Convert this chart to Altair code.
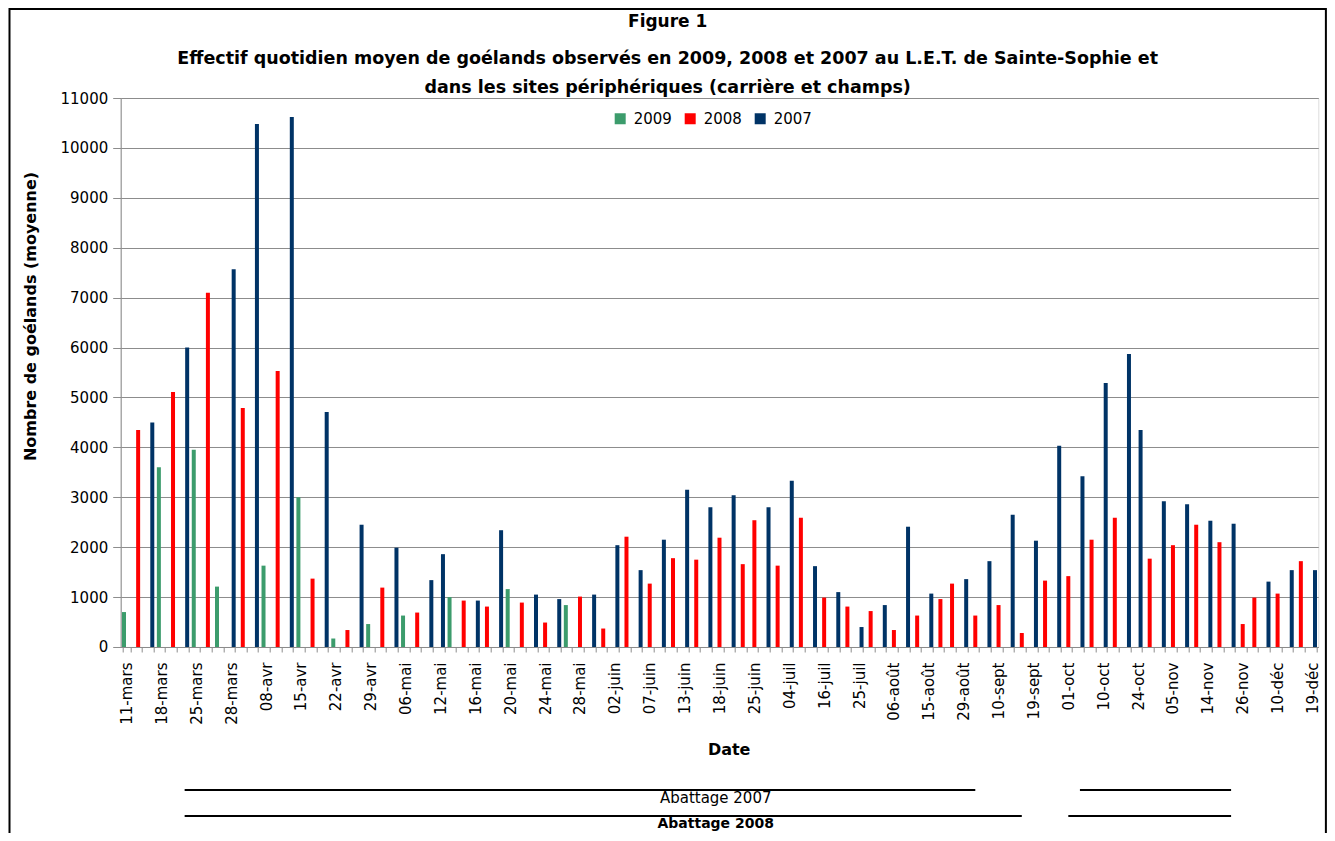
import altair as alt
import pandas as pd

# ---- data ----
date_labels = ["11-mars", "18-mars", "25-mars", "28-mars", "08-avr", "15-avr", "22-avr",
               "29-avr", "06-mai", "12-mai", "16-mai", "20-mai", "24-mai", "28-mai",
               "02-juin", "07-juin", "13-juin", "18-juin", "25-juin", "04-juil", "16-juil",
               "25-juil", "06-août", "15-août", "29-août", "10-sept", "19-sept", "01-oct",
               "10-oct", "24-oct", "05-nov", "14-nov", "26-nov", "10-déc", "19-déc"]
n_dates = 103  # one category per observation date, labelled every third one

years = ["2009", "2008", "2007"]
colors = ["#3c9c6c", "#ff0000", "#003366"]

idx_2009 = [0, 3, 6, 8, 12, 15, 18, 21, 24, 28, 33, 38]
val_2009 = [700, 3600, 3950, 1210, 1630, 3000, 170, 460, 630, 1000, 1160, 840]

idx_2008 = [1, 4, 7, 10, 13, 16, 19, 22, 25,
            29, 31, 34, 36, 39, 41, 43, 45, 47, 49, 51, 53, 54, 56, 58,
            60, 62, 64, 66, 68, 70, 71, 73, 75, 77, 79, 81, 83, 85,
            88, 90, 92, 94, 96, 97, 99, 101]
val_2008 = [4350, 5110, 7100, 4790, 5530, 1370, 340, 1190, 690,
            930, 810, 890, 490, 1010, 370, 2210, 1270, 1780, 1750, 2190, 1660, 2540, 1630, 2590,
            990, 810, 720, 340, 630, 960, 1270, 630, 840, 280, 1330, 1420, 2150, 2590,
            1770, 2040, 2450, 2100, 460, 990, 1070, 1720]

idx_2007 = [2, 5, 9, 11, 14, 17, 20, 23, 26, 27,
            30, 32, 35, 37, 40, 42, 44, 46, 48, 50,
            52, 55, 57, 59, 61, 63, 65, 67, 69, 72,
            74, 76, 78, 80, 82, 84, 86, 87, 89, 91,
            93, 95, 98, 100, 102]
val_2007 = [4500, 6000, 7570, 10480, 10620, 4710, 2450, 1990, 1340, 1860,
            930, 2340, 1050, 960, 1050, 2040, 1540, 2150, 3150, 2800,
            3040, 2800, 3330, 1620, 1100, 400, 840, 2410, 1070, 1360,
            1720, 2650, 2130, 4030, 3420, 5290, 5870, 4350, 2920, 2860,
            2530, 2470, 1310, 1540, 1540]

# culling periods (start / end date index)
abattage_2007 = [(5, 73), (82, 95)]
abattage_2008 = [(5, 77), (81, 95)]

title_lines = ["Figure 1",
               "Effectif quotidien moyen de goélands observés en 2009, 2008 et 2007 au L.E.T. de Sainte-Sophie et",
               "dans les sites périphériques (carrière et champs)"]

# ---- build tables ----
rows = []
for yr, idxs, vals in [("2009", idx_2009, val_2009), ("2008", idx_2008, val_2008), ("2007", idx_2007, val_2007)]:
    for i, v in zip(idxs, vals):
        rows.append({"idx": i, "annee": yr, "n": v})
df = pd.DataFrame(rows)

ab07 = pd.DataFrame(abattage_2007, columns=["start", "end"])
ab08 = pd.DataFrame(abattage_2008, columns=["start", "end"])

W = 1197.6
H = 549
FONT = "DejaVu Sans"
GRAY = "#8c8c8c"

label_js = "[" + ",".join("'" + s + "'" for s in date_labels) + "]"
label_expr = f"datum.value % 3 == 0 ? {label_js}[datum.value / 3] : ''"

xscale = alt.Scale(domain=list(range(n_dates)), paddingInner=0.35, paddingOuter=0.175)

bars = alt.Chart(df).mark_bar(width=4).encode(
    x=alt.X("idx:O", scale=xscale,
            axis=alt.Axis(title="Date", labelExpr=label_expr, labelAngle=-90,
                          labelAlign="right", labelBaseline="middle", labelOverlap=False,
                          labelFont=FONT, labelFontSize=15, labelColor="black",
                          labelPadding=10, tickSize=5, tickColor=GRAY, tickBand="extent",
                          domainColor=GRAY, grid=False,
                          titleFont=FONT, titleFontSize=16, titleFontWeight="bold",
                          titleColor="black", titleX=608, titleY=103,
                          titleAlign="center", titleBaseline="middle")),
    xOffset=alt.XOffset("annee:N", scale=alt.Scale(domain=years)),
    y=alt.Y("n:Q", scale=alt.Scale(domain=[0, 11000], nice=False),
            axis=alt.Axis(title="Nombre de goélands (moyenne)",
                          values=list(range(0, 11001, 1000)), format="d",
                          labelFont=FONT, labelFontSize=15, labelColor="black",
                          labelPadding=5, tickSize=8, tickColor=GRAY,
                          domainColor=GRAY, gridColor=GRAY,
                          titleFont=FONT, titleFontSize=16, titleFontWeight="bold",
                          titleColor="black", titleX=-90, titleY=218,
                          titleAlign="center", titleBaseline="middle")),
    color=alt.Color("annee:N", scale=alt.Scale(domain=years, range=colors),
                    legend=alt.Legend(orient="none", legendX=492, legendY=13,
                                      direction="horizontal", title=None,
                                      symbolType="square", symbolSize=121,
                                      symbolStrokeWidth=0, labelFont=FONT,
                                      labelFontSize=15, labelColor="black",
                                      labelOffset=6, columnPadding=10)),
)

rule07 = alt.Chart(ab07).mark_rule(color="black", strokeWidth=2).encode(
    x=alt.X("start:O", scale=xscale), x2="end:O", y=alt.value(692))
rule08 = alt.Chart(ab08).mark_rule(color="black", strokeWidth=2).encode(
    x=alt.X("start:O", scale=xscale), x2="end:O", y=alt.value(718))

txt07 = alt.Chart(pd.DataFrame({"t": ["Abattage 2007"]})).mark_text(
    font=FONT, fontSize=15, color="black", align="center", baseline="middle").encode(
    text="t:N", x=alt.value(595), y=alt.value(700))
txt08 = alt.Chart(pd.DataFrame({"t": ["Abattage 2008"]})).mark_text(
    font=FONT, fontSize=14, fontWeight="bold", color="black", align="center", baseline="alphabetic").encode(
    text="t:N", x=alt.value(595), y=alt.value(730))

frame = alt.Chart(pd.DataFrame({"f": [0]})).mark_rect(
    fill="transparent", stroke="black", strokeWidth=2).encode(
    x=alt.value(-111.2), x2=alt.value(W + 7.6), y=alt.value(-89), y2=alt.value(H + 250))

chart = alt.layer(frame, bars, rule07, rule08, txt07, txt08).properties(
    width=W, height=H,
    autosize=alt.AutoSizeParams(type="none"),
    padding={"left": 112.7, "top": 90, "right": 8.6, "bottom": 186},
    title=alt.TitleParams(text=title_lines[0], subtitle=title_lines[1:],
                          anchor="middle", frame="bounds",
                          font=FONT, fontSize=17, fontWeight="bold", color="black",
                          subtitleFont=FONT, subtitleFontSize=17.5, subtitleFontWeight="bold",
                          subtitleColor="black", subtitleLineHeight=29.5,
                          subtitlePadding=19, offset=4, dy=94),
).configure_view(stroke=GRAY).configure(background="white")

chart.save("out.html", embed_options={"renderer": "svg", "actions": False})
